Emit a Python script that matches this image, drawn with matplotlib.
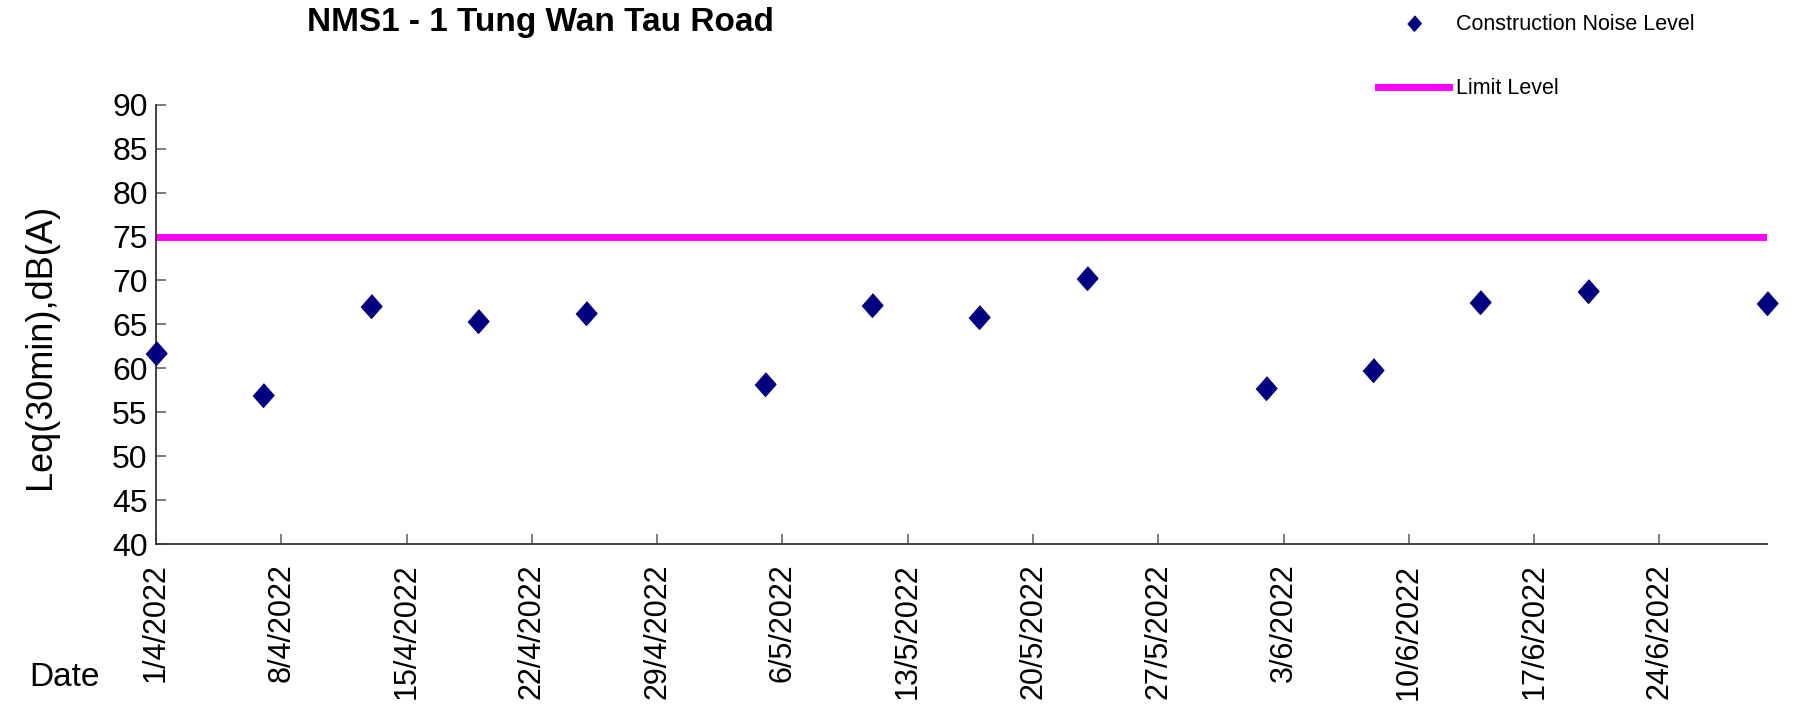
import matplotlib.pyplot as plt
from matplotlib.lines import Line2D
import datetime as dt

plt.rcParams['font.family'] = ['Liberation Sans', 'DejaVu Sans']

# Measured noise levels (Leq 30min, dB(A))
dates = ["1/4/2022", "7/4/2022", "13/4/2022", "19/4/2022", "25/4/2022",
         "5/5/2022", "11/5/2022", "17/5/2022", "23/5/2022", "2/6/2022",
         "8/6/2022", "14/6/2022", "20/6/2022", "30/6/2022"]
noise = [61.8, 57.0, 67.1, 65.4, 66.3, 58.2, 67.2, 65.8, 70.3, 57.8,
         59.8, 67.6, 68.8, 67.4]
limit_level = 75
tick_dates = ["1/4/2022", "8/4/2022", "15/4/2022", "22/4/2022", "29/4/2022",
              "6/5/2022", "13/5/2022", "20/5/2022", "27/5/2022", "3/6/2022",
              "10/6/2022", "17/6/2022", "24/6/2022"]


def parse(s):
    return dt.datetime.strptime(s, "%d/%m/%Y")


x = [parse(d) for d in dates]
xt = [parse(d) for d in tick_dates]
x_start = parse("1/4/2022")
x_end = parse("30/6/2022")

diamond = [(0, 1), (0.88, 0), (0, -1), (-0.88, 0)]

fig = plt.figure(figsize=(18.14, 7.17), dpi=100)
ax = fig.add_axes([0.086, 0.241, 0.888, 0.613])

ax.axhline(limit_level, color="#FF00FF", lw=5, zorder=2)
ax.plot(x, noise, linestyle="none", marker=diamond, markersize=17,
        color="#000080", zorder=3, clip_on=False)

ax.set_xlim(x_start, x_end)
ax.set_ylim(40, 90)
ax.set_yticks(range(40, 91, 5))
ax.set_xticks(xt)
ax.set_xticklabels(tick_dates, rotation=90, va="top", ha="center")
ax.tick_params(axis="y", direction="in", length=7, width=1.2, color="#666666",
               labelsize=23, pad=6)
ax.tick_params(axis="x", direction="in", length=7, width=1.2, color="#666666",
               labelsize=22, pad=14)

for side in ["top", "right"]:
    ax.spines[side].set_visible(False)
for side in ["left", "bottom"]:
    ax.spines[side].set_color("#333333")
    ax.spines[side].set_linewidth(1.3)

ax.set_ylabel("Leq(30min),dB(A)", fontsize=26, va="center")
ax.yaxis.set_label_coords(-0.072, 0.45)
fig.text(0.016, 0.055, "Date", fontsize=24, ha="left", va="center")
fig.text(0.298, 0.968, "NMS1 - 1 Tung Wan Tau Road", fontsize=24,
         fontweight="bold", ha="center", va="center")

handles = [Line2D([], [], linestyle="none", marker=diamond, markersize=11,
                  color="#000080"),
           Line2D([], [], color="#FF00FF", lw=5)]
fig.legend(handles, ["Construction Noise Level", "Limit Level"],
           loc="upper left", bbox_to_anchor=(0.749, 1.007), frameon=False,
           fontsize=15.5, handlelength=3.3, handletextpad=0.3,
           labelspacing=2.0)

fig.savefig("out.png", dpi=100)
